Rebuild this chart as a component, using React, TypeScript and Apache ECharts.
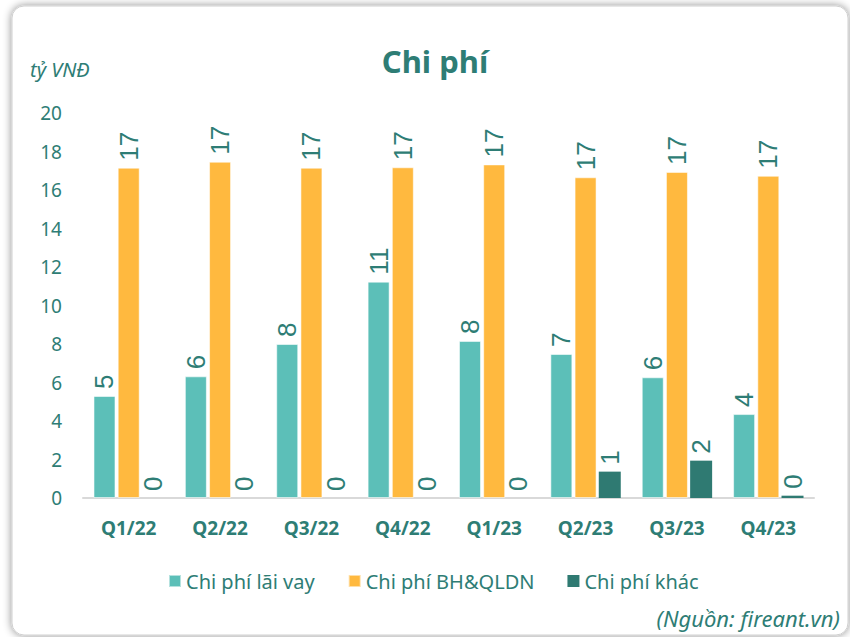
import React, { useEffect, useRef } from "react";
import * as echarts from "echarts";

const categories = ["Q1/22", "Q2/22", "Q3/22", "Q4/22", "Q1/23", "Q2/23", "Q3/23", "Q4/23"];
const laiVay = [5.3, 6.32, 8.0, 11.24, 8.16, 7.48, 6.27, 4.36];
const bhQldn = [17.16, 17.47, 17.16, 17.18, 17.33, 16.66, 16.94, 16.74];
const khac = [0, 0, 0, 0, 0, 1.37, 1.94, 0.12];
const seriesNames = ["Chi phí lãi vay", "Chi phí BH&QLDN", "Chi phí khác"];
const yTicks = { min: 0, max: 20, interval: 2 };

const TEXT = "#2E7D75";
const COLORS = ["#5CBFB8", "#FFB93F", "#2F7A72"];
const FONT = "'Noto Sans', 'Open Sans', sans-serif";

export default function App() {
  const ref = useRef<HTMLDivElement>(null);
  useEffect(() => {
    if (!ref.current) return;
    const chart = echarts.init(ref.current, null, { renderer: "svg" });
    const label = {
      show: true,
      position: "top" as const,
      rotate: 90,
      align: "left" as const,
      verticalAlign: "middle" as const,
      distance: 7,
      color: TEXT,
      fontFamily: "'Liberation Sans', Arial, sans-serif",
      fontSize: 26,
      formatter: (p: any) => String(Math.round(p.value)),
    };
    const mk = (name: string, data: number[], color: string, border: boolean) => ({
      name,
      type: "bar" as const,
      data,
      barWidth: 22,
      barGap: "10%",
      itemStyle: border
        ? { color, borderColor: "rgba(255,255,255,0.55)", borderWidth: 1 }
        : { color },
      label,
    });
    chart.setOption({
      animation: false,
      backgroundColor: "#ffffff",
      graphic: [
        {
          type: "rect",
          shape: { x: 12, y: 6, width: 836, height: 629, r: 12 },
          style: {
            fill: "#ffffff",
            stroke: "#d0d0d0",
            lineWidth: 1,
            shadowBlur: 8,
            shadowColor: "rgba(0,0,0,0.45)",
          },
          z: -10,
        },
        {
          type: "text",
          x: 30,
          y: 69,
          style: {
            text: "tỷ VNĐ",
            fill: TEXT,
            font: `italic 20px ${FONT}`,
            verticalAlign: "middle",
          },
        },
        {
          type: "text",
          x: 840,
          y: 618,
          style: {
            text: "(Nguồn: fireant.vn)",
            fill: TEXT,
            font: `italic 22px ${FONT}`,
            align: "right",
            verticalAlign: "middle",
          },
        },
      ],
      title: {
        text: "Chi phí",
        left: 430,
        top: 40,
        textAlign: "center",
        textStyle: { color: TEXT, fontFamily: FONT, fontWeight: "bold", fontSize: 31 },
      },
      legend: {
        left: 163,
        top: 566,
        itemWidth: 12,
        itemHeight: 12,
        itemGap: 33,
        icon: "rect",
        textStyle: { color: TEXT, fontFamily: FONT, fontSize: 20 },
        data: seriesNames,
      },
      grid: { left: 83, right: 36, top: 113, bottom: 139, containLabel: false },
      xAxis: {
        type: "category",
        data: categories,
        axisLine: { lineStyle: { color: "#d9d9d9", width: 2 } },
        axisTick: { show: false },
        axisLabel: { color: TEXT, fontFamily: FONT, fontWeight: "bold", fontSize: 19, margin: 20 },
      },
      yAxis: {
        type: "value",
        min: yTicks.min,
        max: yTicks.max,
        interval: yTicks.interval,
        axisLine: { show: false },
        axisTick: { show: false },
        splitLine: { show: false },
        axisLabel: { color: TEXT, fontFamily: FONT, fontSize: 19, margin: 21 },
      },
      series: [
        mk(seriesNames[0], laiVay, COLORS[0], true),
        mk(seriesNames[1], bhQldn, COLORS[1], true),
        mk(seriesNames[2], khac, COLORS[2], false),
      ],
    });
    return () => chart.dispose();
  }, []);
  return (
    <div
      ref={ref}
      style={{ position: "absolute", left: 0, top: 0, width: 850, height: 637 }}
    />
  );
}
